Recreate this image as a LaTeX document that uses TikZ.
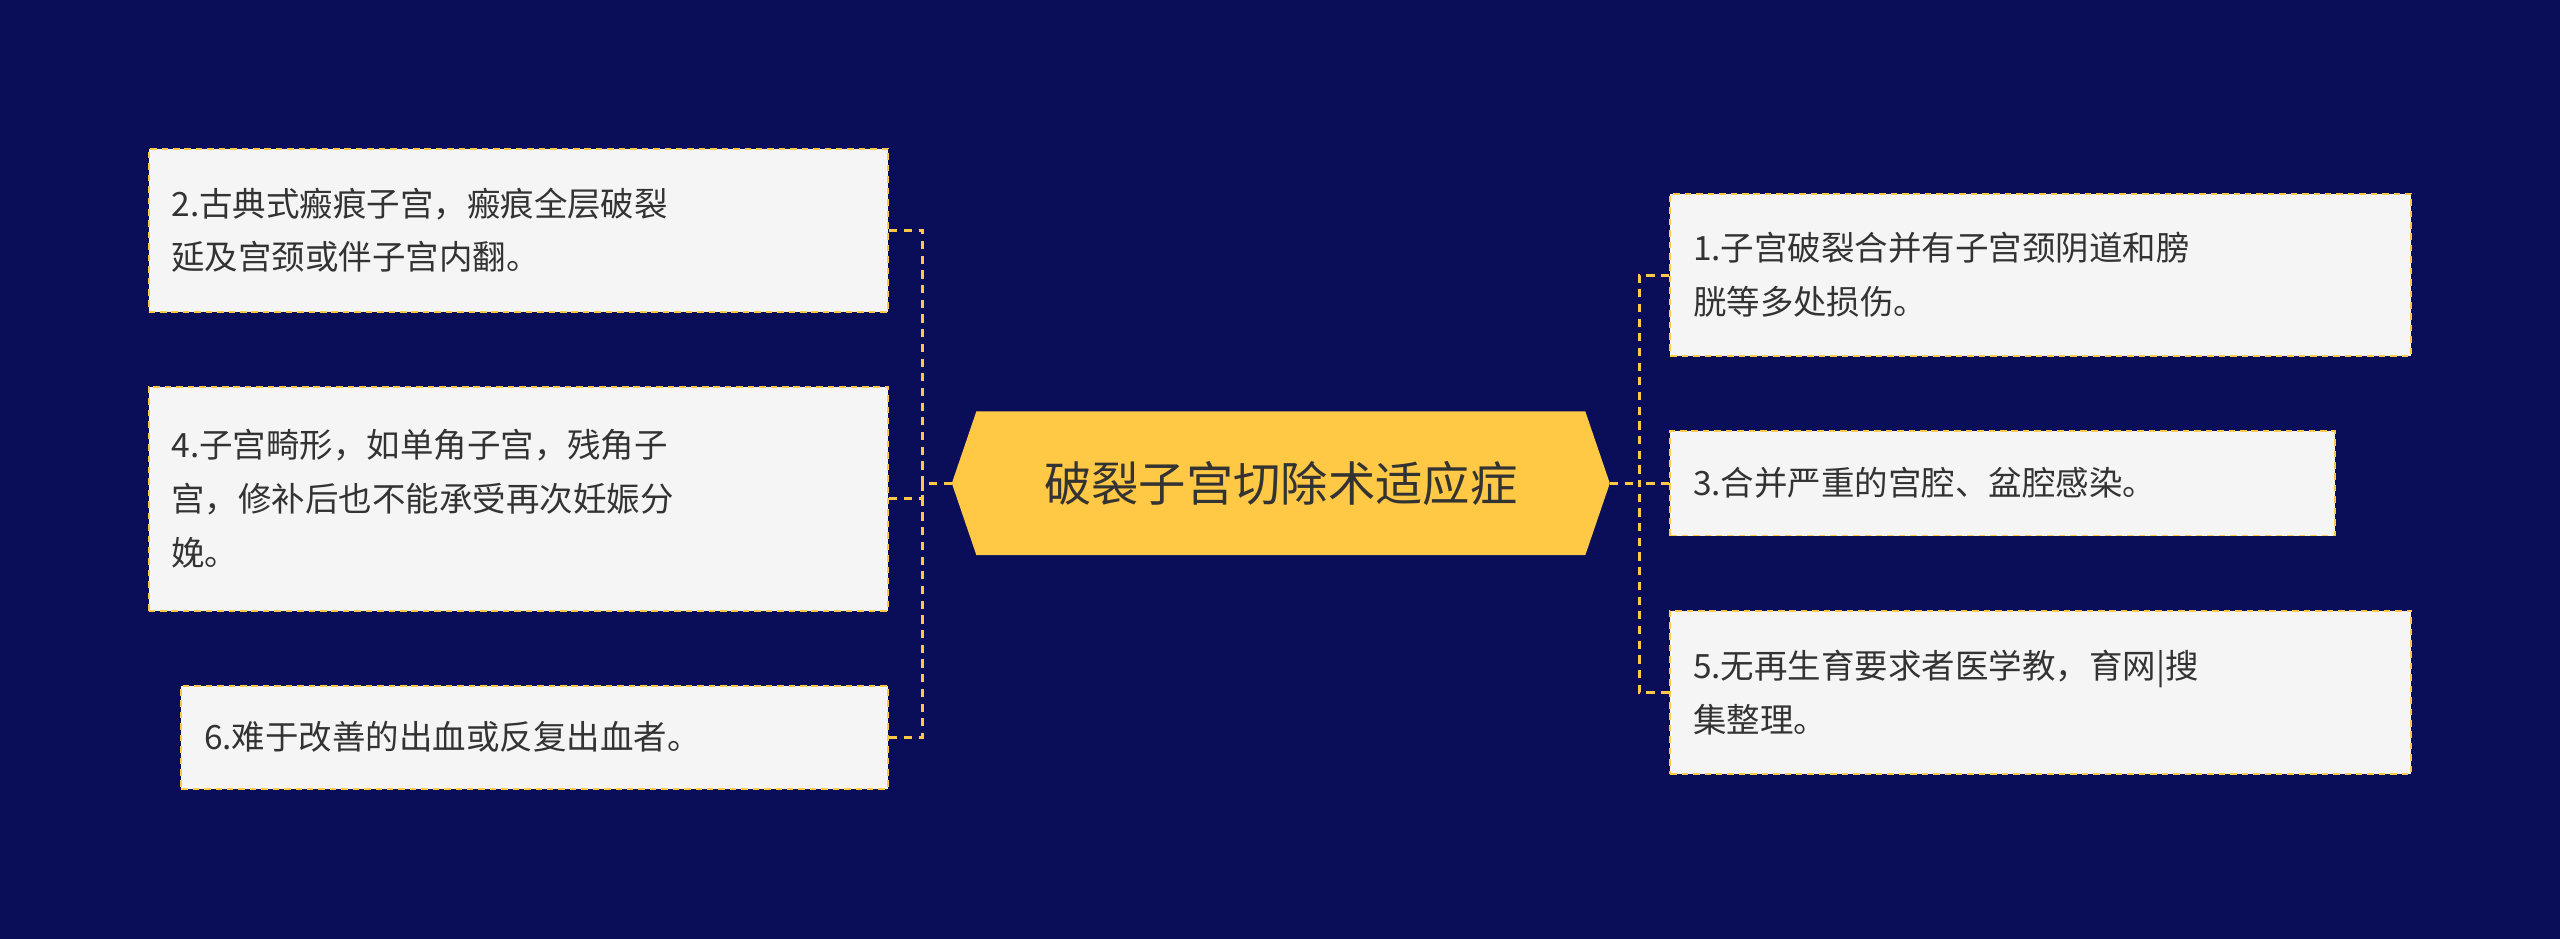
\documentclass[tikz,border=0pt]{standalone}
\usepackage{fontspec}
\newfontfamily\cjk{Noto Sans CJK SC}
\definecolor{bg}{HTML}{0A0D58}
\definecolor{gold}{HTML}{FFC845}
\definecolor{boxfill}{HTML}{F5F5F5}
\definecolor{txt}{HTML}{333333}
\begin{document}
\begin{tikzpicture}[x=1pt,y=-1pt,
  leaf/.style={draw=gold,dashed,line width=1.2pt,dash pattern=on 4pt off 3pt,fill=boxfill,
    inner sep=0pt,font=\cjk\fontsize{20.5}{33}\selectfont,text=txt,align=left},
  conn/.style={draw=gold,line width=1.8pt,dash pattern=on 5pt off 4pt}]
\fill[bg] (0,0) rectangle (1568,575);
\useasboundingbox (0,0) rectangle (1568,575);
\fill[gold] (583,296) -- (598,252) -- (971,252) -- (986,296) -- (971,340) -- (598,340) -- cycle;
\node[font=\cjk\fontsize{29}{34}\selectfont,text=txt] (c) at (784.5,296) {破裂子宫切除术适应症};
\coordinate (cl) at (583,296);
\coordinate (cr) at (986,296);
% left
\node[leaf,minimum width=453pt,minimum height=100pt,text width=425pt] (b2) at (317.5,141) {2.古典式瘢痕子宫，瘢痕全层破裂\\延及宫颈或伴子宫内翻。};
\node[leaf,minimum width=453pt,minimum height=137pt,text width=425pt] (b4) at (317.5,305.5) {4.子宫畸形，如单角子宫，残角子\\宫，修补后也不能承受再次妊娠分\\娩。};
\node[leaf,minimum width=433pt,minimum height=63pt,text width=405pt] (b6) at (327.5,451.5) {6.难于改善的出血或反复出血者。};
% right
\node[leaf,minimum width=454pt,minimum height=99pt,text width=426pt] (b1) at (1250,168.5) {1.子宫破裂合并有子宫颈阴道和膀\\胱等多处损伤。};
\node[leaf,minimum width=407pt,minimum height=64pt,text width=379pt] (b3) at (1226.5,296) {3.合并严重的宫腔、盆腔感染。};
\node[leaf,minimum width=454pt,minimum height=100pt,text width=426pt] (b5) at (1250,424) {5.无再生育要求者医学教，育网|搜\\集整理。};
\coordinate (lj) at (565,296);
\coordinate (rj) at (1004,296);
\draw[conn] (cl) -- (lj);
\draw[conn] (b2.east) -| (lj);
\draw[conn] (b4.east) -| (lj);
\draw[conn] (b6.east) -| (lj);
\draw[conn] (cr) -- (rj);
\draw[conn] (b1.west) -| (rj);
\draw[conn] (b3.west) -| (rj);
\draw[conn] (b5.west) -| (rj);
\end{tikzpicture}
\end{document}
